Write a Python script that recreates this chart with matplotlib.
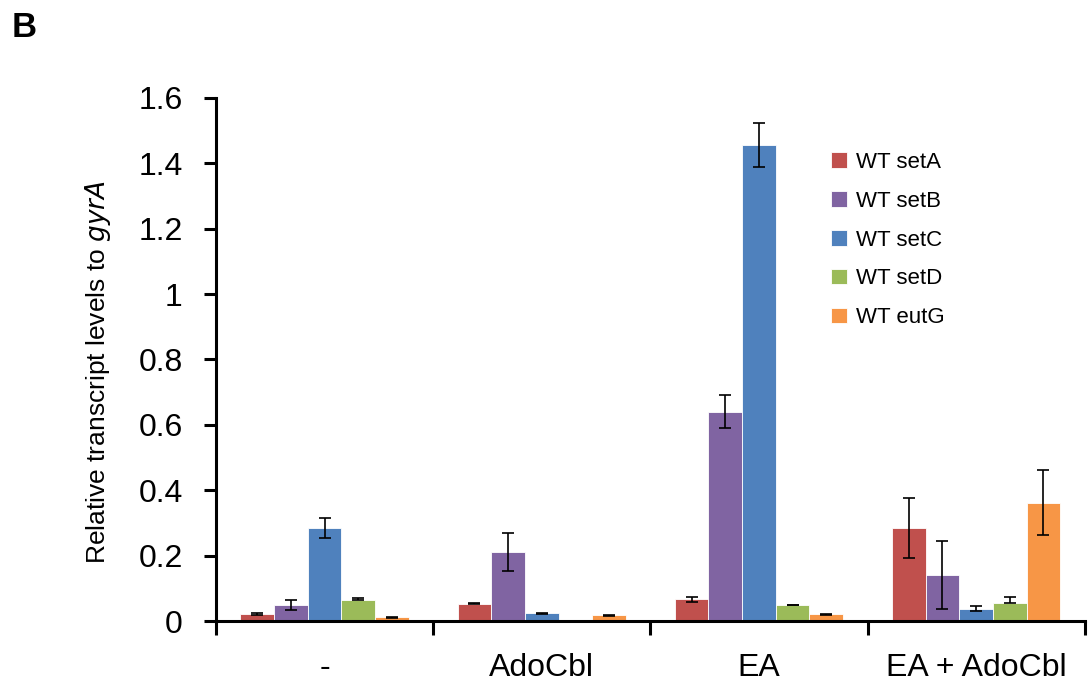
import matplotlib.pyplot as plt
import matplotlib as mpl
import numpy as np
from matplotlib.ticker import FixedLocator, FuncFormatter

# Data
conditions = ["-", "AdoCbl", "EA", "EA + AdoCbl"]
series_names = ["WT setA", "WT setB", "WT setC", "WT setD", "WT eutG"]
series_colors = ["#C0504D", "#8064A2", "#4F81BD", "#9BBB59", "#F79646"]

set_a = [0.022, 0.053, 0.066, 0.285]
set_b = [0.049, 0.211, 0.640, 0.141]
set_c = [0.285, 0.024, 1.456, 0.038]
set_d = [0.064, 0.0, 0.048, 0.056]
eut_g = [0.011, 0.017, 0.021, 0.362]

err_a = [0.003, 0.002, 0.008, 0.092]
err_b = [0.015, 0.058, 0.050, 0.104]
err_c = [0.031, 0.002, 0.067, 0.007]
err_d = [0.005, 0.0, 0.002, 0.016]
err_g = [0.001, 0.002, 0.002, 0.100]

values = [set_a, set_b, set_c, set_d, eut_g]
errors = [err_a, err_b, err_c, err_d, err_g]

mpl.rcParams['font.family'] = ['Liberation Sans', 'DejaVu Sans']

fig = plt.figure(figsize=(10.88, 6.85), dpi=100)
ax = fig.add_axes([0.1985, 0.0934, 0.7985, 0.7636])

x = np.arange(len(conditions))
width = 0.155
for i, (vals, errs, name, color) in enumerate(zip(values, errors, series_names, series_colors)):
    pos = x + (i - 2) * width
    # setD error bars only show the upper half
    lower = [0 if name == "WT setD" else e for e in errs]
    ax.bar(pos, vals, width, color=color, edgecolor='white', linewidth=0.6, label=name)
    ax.errorbar(pos, vals, yerr=[lower, errs], fmt='none', ecolor='black',
                elinewidth=1.2, capsize=4, capthick=1.2)

ax.set_xlim(-0.5, 3.5)
ax.set_ylim(0, 1.6)

ax.spines['top'].set_visible(False)
ax.spines['right'].set_visible(False)
ax.spines['left'].set_linewidth(2.2)
ax.spines['bottom'].set_linewidth(2.2)

ax.set_yticks(np.arange(0, 1.61, 0.2))
ax.yaxis.set_major_formatter(FuncFormatter(lambda v, p: "%g" % round(v, 1)))
ax.tick_params(axis='y', direction='out', length=9, width=2.2, labelsize=23, pad=15)

ax.set_xticks(x)
ax.set_xticklabels(conditions)
ax.tick_params(axis='x', which='major', length=0, labelsize=23, pad=23)
ax.xaxis.set_minor_locator(FixedLocator(np.arange(-0.5, 3.6, 1.0)))
ax.tick_params(axis='x', which='minor', direction='out', length=10, width=2.2)

ax.set_ylabel(r"Relative transcript levels to $\mathit{gyrA}$", fontsize=19)
ax.yaxis.set_label_coords(-0.118, 0.476)

legend = ax.legend(loc='upper left', bbox_to_anchor=(0.685, 0.935), frameon=False,
                   fontsize=16, handlelength=0.7, handleheight=0.7,
                   handletextpad=0.4, labelspacing=0.8)

fig.text(0.011, 0.946, "B", fontsize=25, fontweight='bold')

fig.savefig("out.png", dpi=100)
